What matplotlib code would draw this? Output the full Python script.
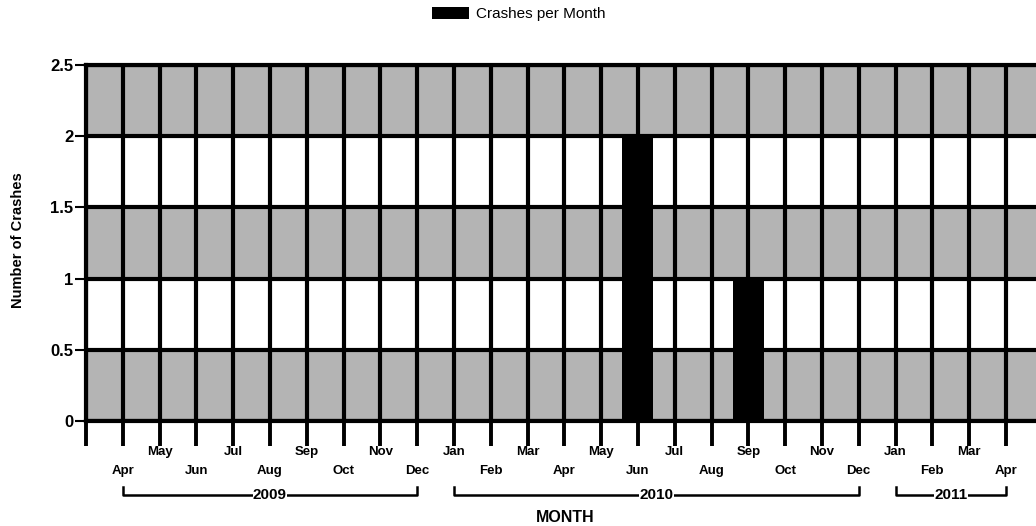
import numpy as np
import pandas as pd
import matplotlib
matplotlib.use("Agg")
import matplotlib.pyplot as plt
import matplotlib.transforms as mtransforms

# datos
meses = pd.date_range("2009-03-01", "2011-05-01", freq="MS")
etiquetas = [m.strftime("%b") for m in meses]
# Mar 2009 .. May 2011
choques = [0, 0, 0, 0, 0, 0, 0, 0, 0, 0,   # 2009 Mar-Dec
           0, 0, 0, 0, 0, 2, 0, 0, 1, 0, 0, 0,   # 2010
           0, 0, 0, 0, 0]   # 2011 Jan-May
sin_etiqueta = [0, len(meses) - 1]
anios = ["2009", "2010", "2011"]
rangos_anio = [(1, 9), (10, 21), (22, 25)]

plt.rcParams['font.family'] = ['Liberation Sans', 'DejaVu Sans']

fig = plt.figure(figsize=(10.36, 5.26), dpi=100)
ax = fig.add_axes([0.083, 0.1996, 0.959, 0.677])

x = np.arange(len(meses))

# franjas de fondo
for y0 in [0, 1.0, 2.0]:
    ax.axhspan(y0, y0 + 0.5, color='#b4b4b4', zorder=0, lw=0)

ax.bar(x, choques, width=0.84, color='black', zorder=3, label='Crashes per Month')

ax.set_xlim(0, 27)
ax.set_ylim(0, 2.5)
ax.set_yticks([0, 0.5, 1, 1.5, 2, 2.5])
ax.set_yticklabels(['0', '0.5', '1', '1.5', '2', '2.5'], fontsize=12, fontweight='bold')
ax.set_xticks(x)
ax.set_xticklabels([])
ax.tick_params(axis='x', length=18, width=2.8, direction='out')
ax.tick_params(axis='y', length=8, width=1.5, pad=1)

ax.grid(True, color='black', linewidth=3, zorder=2)
ax.set_axisbelow(False)
for s in ['left', 'bottom', 'top']:
    ax.spines[s].set_linewidth(3)
ax.spines['right'].set_visible(False)

trans = mtransforms.blended_transform_factory(ax.transData, ax.transAxes)

# etiquetas de meses en dos filas
for i, et in enumerate(etiquetas):
    if i in sin_etiqueta:
        continue
    yy = -0.086 if i % 2 == 0 else -0.14
    ax.text(i, yy, et, transform=trans, ha='center', va='center',
            fontsize=9.5, fontweight='bold', clip_on=False)

# llaves de años
for anio, (a, b) in zip(anios, rangos_anio):
    ax.plot([a, a, b, b], [-0.185, -0.208, -0.208, -0.185], color='black', lw=1.8,
            transform=trans, clip_on=False)
    ax.text((a + b) / 2, -0.208, anio, transform=trans, ha='center', va='center',
            fontsize=11, fontweight='bold', clip_on=False,
            bbox=dict(facecolor='white', edgecolor='none', pad=0.3))

fig.text(565 / 1036, 1 - 517 / 526, 'MONTH', ha='center', va='center', fontsize=11.5, fontweight='bold')
ax.set_ylabel('Number of Crashes', fontsize=10.5, fontweight='bold')
ax.yaxis.set_label_coords(25 / 1036, 1 - 240 / 526, transform=fig.transFigure)

fig.legend(loc='center', bbox_to_anchor=(0.501, 1 - 14 / 526), frameon=False,
           fontsize=11, handlelength=2.4, handleheight=0.9, handletextpad=0.5)

fig.savefig('out.png', dpi=100)
